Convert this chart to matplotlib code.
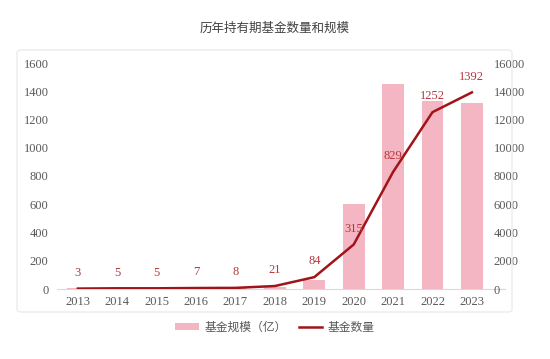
import matplotlib
matplotlib.use("Agg")
import matplotlib.pyplot as plt
from matplotlib.patches import FancyBboxPatch, Patch
from matplotlib.lines import Line2D

plt.rcParams['font.family'] = ['Liberation Serif', 'Noto Sans CJK SC', 'DejaVu Sans']

years = ['2013', '2014', '2015', '2016', '2017', '2018', '2019', '2020', '2021', '2022', '2023']
fund_scale = [5, 2, 2, 3, 5, 15, 65, 600, 1450, 1330, 1320]          # 基金规模（亿） left axis
fund_count = [3, 5, 5, 7, 8, 21, 84, 315, 829, 1252, 1392]            # 基金数量 labels
right_axis_factor = 10  # line drawn on right axis (0-16000) at count x 10, as in the source

title = '历年持有期基金数量和规模'
left_ticks = [0, 200, 400, 600, 800, 1000, 1200, 1400, 1600]
right_ticks = [0, 2000, 4000, 6000, 8000, 10000, 12000, 14000, 16000]

bar_color = '#F4B6C2'
line_color = '#A01419'
label_color = '#B5373C'
tick_color = '#595959'

fig = plt.figure(figsize=(5.5, 3.59), dpi=100)
fig.patch.set_facecolor('white')

frame = FancyBboxPatch((17/550, (359-312)/359), (512-17)/550, (312-50)/359,
                       boxstyle='round,pad=0,rounding_size=0.008',
                       transform=fig.transFigure, fill=False,
                       edgecolor='#EBEBEB', linewidth=1.0)
fig.patches.append(frame)

ax = fig.add_axes([57/550, (359-289)/359, (505-57)/550, (289-63)/359])
x = list(range(len(years)))
ax.bar(x, fund_scale, width=0.55, color=bar_color, zorder=1)
ax.set_ylim(0, 1600)
ax.set_yticks(left_ticks)
ax.set_xlim(-0.53, 10.84)
ax.set_xticks(x)
ax.set_xticklabels(years)
for s in ['top', 'right', 'left']:
    ax.spines[s].set_visible(False)
ax.spines['bottom'].set_color('#D9D9D9')
ax.tick_params(axis='both', length=0, labelsize=9, colors=tick_color)
ax.tick_params(axis='x', pad=5)
ax.tick_params(axis='y', pad=6)

ax2 = ax.twinx()
line_vals = [c * right_axis_factor for c in fund_count]
ax2.plot(x, line_vals, color=line_color, linewidth=1.8, zorder=3)
ax2.set_ylim(0, 16000)
ax2.set_yticks(right_ticks)
for s in ['top', 'right', 'left', 'bottom']:
    ax2.spines[s].set_visible(False)
ax2.tick_params(axis='y', length=0, labelsize=9, colors=tick_color, pad=-8)
for lbl in ax2.get_yticklabels():
    lbl.set_horizontalalignment('left')

for xi, v, c in zip(x, line_vals, fund_count):
    ax2.annotate(str(c), (xi, v), xytext=(0, 7), textcoords='offset points',
                 ha='center', va='bottom', fontsize=9, color=label_color)

fig.text(0.5, 1 - 28/359, title, ha='center', va='center', fontsize=9,
         color='#404040', family=['Noto Sans CJK SC', 'DejaVu Sans'])

handles = [Patch(facecolor=bar_color, edgecolor='none'),
           Line2D([0], [0], color=line_color, linewidth=1.8)]
fig.legend(handles, ['基金规模（亿）', '基金数量'], loc='center',
           bbox_to_anchor=(0.5, 1 - 327/359), ncol=2, frameon=False,
           handlelength=2.0, handleheight=0.6, columnspacing=1.0,
           handletextpad=0.5, labelcolor=tick_color,
           prop={'family': ['Noto Sans CJK SC', 'DejaVu Sans'], 'size': 8.5})

fig.savefig('out.png', dpi=100, facecolor='white')
